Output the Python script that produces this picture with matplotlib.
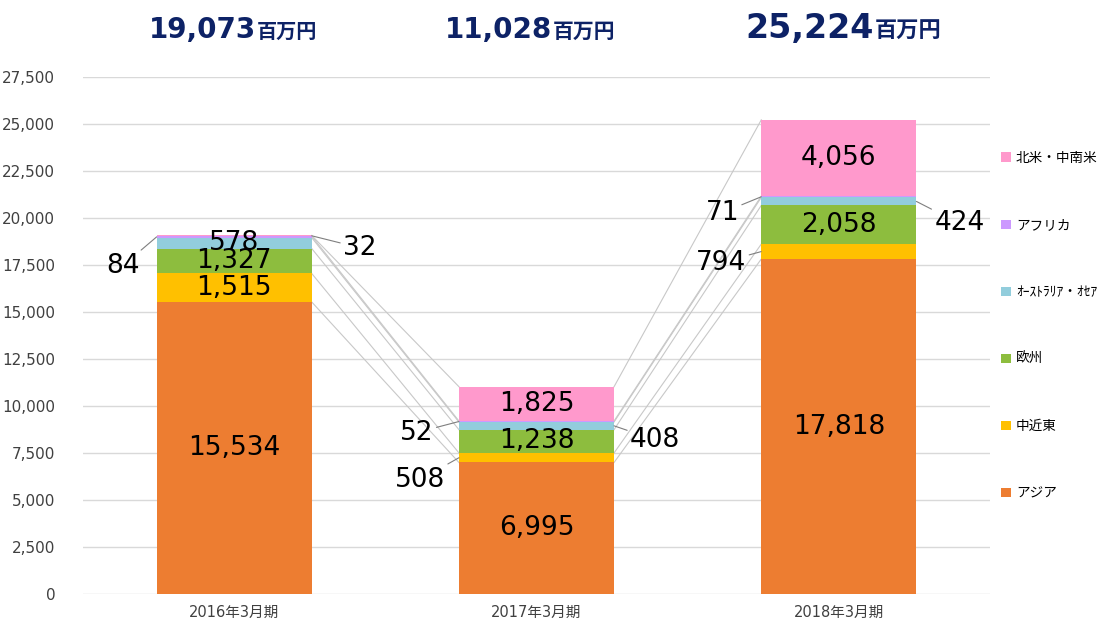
import matplotlib.pyplot as plt
import numpy as np

plt.rcParams['font.family'] = ['DejaVu Sans', 'Noto Sans CJK JP']

# Fiscal years and regional sales (million yen)
years = ['2016年3月期', '2017年3月期', '2018年3月期']
asia = [15534, 6995, 17818]
middle_east = [1515, 508, 794]
europe = [1327, 1238, 2058]
oceania = [578, 408, 424]
africa = [84, 52, 71]
americas = [32, 1825, 4056]
totals = ['19,073', '11,028', '25,224']

series_names = ['アジア', '中近東', '欧州', 'ｵｰｽﾄﾗﾘｱ・ｵｾｱ', 'アフリカ', '北米・中南米']
series_data = [asia, middle_east, europe, oceania, africa, americas]
colors = ['#ED7D31', '#FFC000', '#8DBD3E', '#92CDDC', '#CC99FF', '#FF99CC']

# labels that sit outside the bar: (series, bar) -> offset in pixels
outside = {
    (4, 0): (-34, -29), (5, 0): (48, -12),
    (1, 1): (-39, -22), (4, 1): (-42, -11), (3, 1): (41, -14),
    (1, 2): (-40, -11), (4, 2): (-39, -16), (3, 2): (43, -22),
}

fig = plt.figure(figsize=(11, 6.25), dpi=100)
ax = fig.add_axes([83 / 1100, 1 - 594 / 625, 907 / 1100, 517 / 625])

x = np.arange(len(years))
w = 0.513
bottom = np.zeros(len(years))
tops = []
handles = []
for si, (name, vals, col) in enumerate(zip(series_names, series_data, colors)):
    vals = np.array(vals, dtype=float)
    h = ax.bar(x, vals, w, bottom=bottom, color=col, label=name, zorder=3)
    handles.append(h)
    for bi in range(len(years)):
        mid = bottom[bi] + vals[bi] / 2
        txt = f'{int(vals[bi]):,}'
        if (si, bi) in outside:
            dx, dy = outside[(si, bi)]
            ax_x = x[bi] - w / 2 if dx < 0 else x[bi] + w / 2
            ax.annotate(txt, xy=(ax_x, mid), xytext=(dx, dy), textcoords='offset pixels',
                        ha='center', va='center', fontsize=19, color='black', zorder=5,
                        arrowprops=dict(arrowstyle='-', color='#7F7F7F', lw=0.8,
                                        shrinkA=0, shrinkB=0))
        else:
            ax.text(x[bi], mid, txt, ha='center', va='center', fontsize=19,
                    color='black', zorder=5)
    bottom = bottom + vals
    tops.append(bottom.copy())

# series lines between bars
for lvl in tops:
    for bi in range(len(years) - 1):
        ax.plot([x[bi] + w / 2, x[bi + 1] - w / 2], [lvl[bi], lvl[bi + 1]],
                color='#C8C8C8', lw=0.8, zorder=2)

ax.set_xlim(-0.5, 2.5)
ax.set_ylim(0, 27500)
ax.set_yticks(np.arange(0, 27501, 2500))
ax.set_yticklabels([f'{v:,}' for v in range(0, 27501, 2500)])
ax.set_xticks(x)
ax.set_xticklabels(years, fontsize=10.5, color='#404040')
ax.tick_params(axis='y', labelsize=11, labelcolor='#404040', length=0, pad=20)
ax.tick_params(axis='x', length=0, pad=8)
ax.grid(axis='y', color='#D9D9D9', lw=1, zorder=0)
for s in ax.spines.values():
    s.set_visible(False)

# totals above the chart
title_x = [256, 552, 874]
num_size = [20, 20, 24]
unit_size = [14.5, 15, 16]
for tx, tt, ns, us in zip(title_x, totals, num_size, unit_size):
    fig.text(tx / 1100, 1 - 38 / 625, tt, ha='right', va='baseline', fontsize=ns,
             fontweight='bold', color='#0D2266', family=['DejaVu Sans'])
    fig.text(tx / 1100 + 0.001, 1 - 38 / 625, '百万円', ha='left', va='baseline',
             fontsize=us, fontweight='bold', color='#0D2266', family=['Noto Sans CJK JP'])

fig.legend(handles[::-1], series_names[::-1], loc='upper left',
           bbox_to_anchor=(1001 / 1100, 1 - 151 / 625), frameon=False,
           labelspacing=3.9, handlelength=0.7, handleheight=0.7, handletextpad=0.4,
           borderpad=0, borderaxespad=0,
           prop={'family': ['Noto Sans CJK JP'], 'size': 9.8})

fig.savefig('out.png', dpi=100)
